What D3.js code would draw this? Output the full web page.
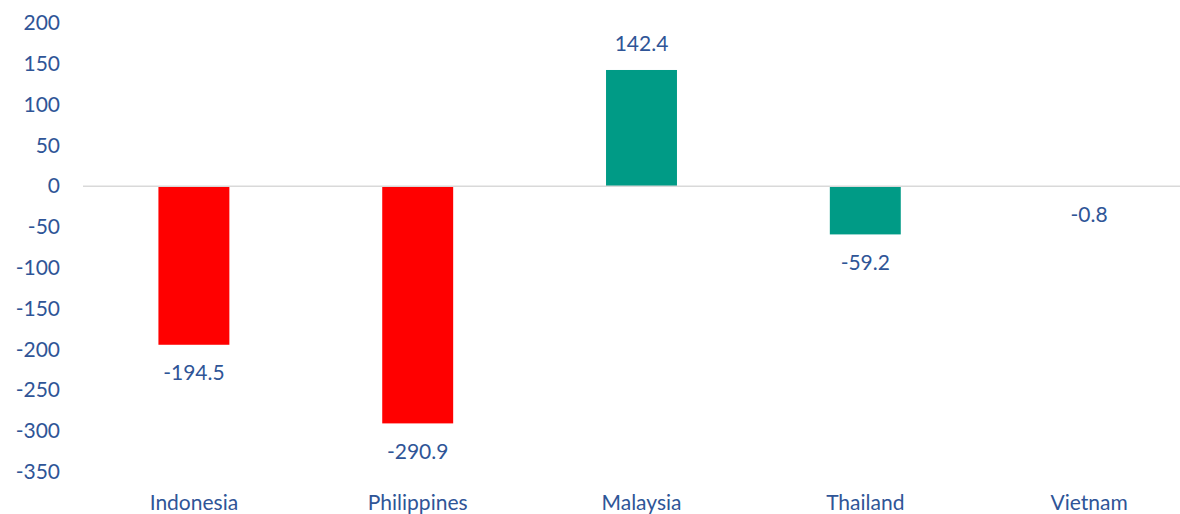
<!DOCTYPE html>
<html>
<head>
<meta charset="utf-8">
<script src="https://cdn.jsdelivr.net/npm/d3@7"></script>
<style>
  body { margin: 0; background: #fff; }
  svg { display: block; }
</style>
</head>
<body>
<svg id="chart"></svg>
<script>
var countries = ["Indonesia", "Philippines", "Malaysia", "Thailand", "Vietnam"];
var values = [-194.5, -290.9, 142.4, -59.2, -0.8];
var barColors = ["#ff0000", "#ff0000", "#009b86", "#009b86", "#009b86"];
var yTicks = [200, 150, 100, 50, 0, -50, -100, -150, -200, -250, -300, -350];

var width = 1180, height = 514;
var textColor = "#2f5597";
var font = "Lato, 'Liberation Sans', sans-serif";

var svg = d3.select("#chart").attr("width", width).attr("height", height);

var x = d3.scaleBand().domain(countries).range([82, 1201]).padding(0);
var y = d3.scaleLinear().domain([-350, 200]).range([471.6, 23]);
var barW = x.bandwidth() * 0.317;

// y labels (no axis line)
svg.append("g").selectAll("text")
  .data(yTicks)
  .enter().append("text")
    .attr("x", 60)
    .attr("y", d => y(d))
    .attr("dy", "0.35em")
    .attr("text-anchor", "end")
    .style("font-family", font)
    .style("font-size", "21px")
    .style("fill", textColor)
    .text(d => d);

// bars
svg.append("g").selectAll("rect")
  .data(values)
  .enter().append("rect")
    .attr("x", (d, i) => x(countries[i]) + x.bandwidth() / 2 - barW / 2)
    .attr("y", d => y(Math.max(0, d)))
    .attr("width", barW)
    .attr("height", d => Math.abs(y(d) - y(0)))
    .style("fill", (d, i) => barColors[i]);

// zero line
svg.append("line")
  .attr("x1", 83).attr("x2", width)
  .attr("y1", y(0)).attr("y2", y(0))
  .attr("stroke", "#d9d9d9")
  .attr("stroke-width", 1.5);

// data labels
svg.append("g").selectAll("text")
  .data(values)
  .enter().append("text")
    .attr("x", (d, i) => x(countries[i]) + x.bandwidth() / 2)
    .attr("y", d => d >= 0 ? y(d) - 26 : y(d) + 28)
    .attr("dy", "0.35em")
    .attr("text-anchor", "middle")
    .style("font-family", font)
    .style("font-size", "21px")
    .style("fill", textColor)
    .text(d => d.toFixed(1));

// category labels
svg.append("g").selectAll("text")
  .data(countries)
  .enter().append("text")
    .attr("x", d => x(d) + x.bandwidth() / 2)
    .attr("y", 503)
    .attr("dy", "0.35em")
    .attr("text-anchor", "middle")
    .style("font-family", font)
    .style("font-size", "21px")
    .style("fill", textColor)
    .text(d => d);
</script>
</body>
</html>
